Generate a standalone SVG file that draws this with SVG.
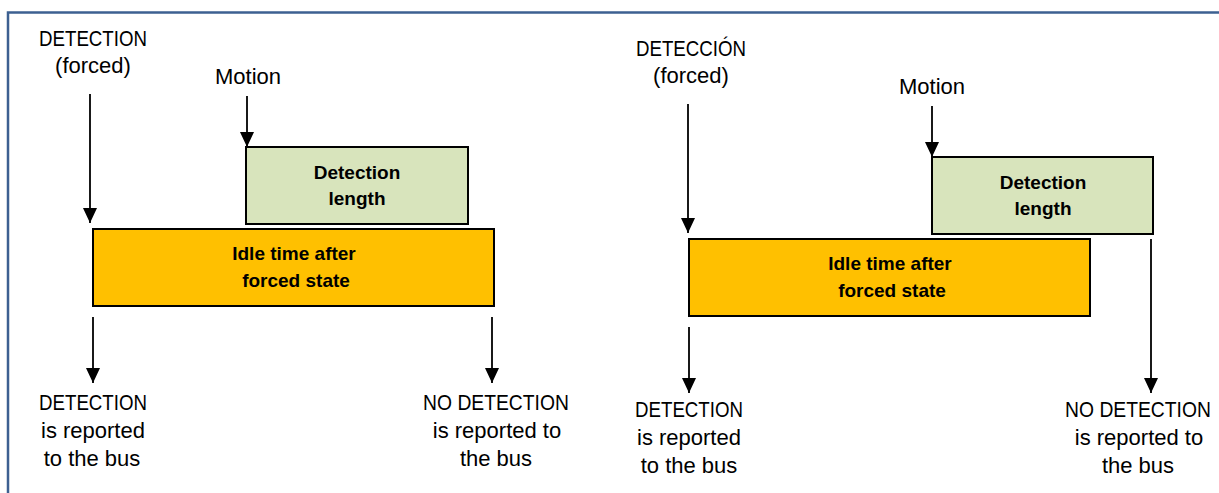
<svg xmlns="http://www.w3.org/2000/svg" width="1219" height="493" viewBox="0 0 1219 493">
<defs>
<marker id="ah" viewBox="0 0 15 14" refX="15" refY="7" markerWidth="15" markerHeight="14" markerUnits="userSpaceOnUse" orient="auto">
<path d="M0,0 L15,7 L0,14 z" fill="#000"/>
</marker>
<style>
.lbl{font-family:"Liberation Sans",Arial,sans-serif;font-size:22px;fill:#000;text-anchor:middle}
.bl{font-family:"Liberation Sans",Arial,sans-serif;font-size:19px;font-weight:bold;fill:#000;text-anchor:middle}
.green{fill:#d8e4bc;stroke:#000;stroke-width:2}
.orange{fill:#ffc000;stroke:#000;stroke-width:2}
.arr{stroke:#000;stroke-width:1.8;fill:none;marker-end:url(#ah)}
</style>
</defs>
<rect width="1219" height="493" fill="#fff"/>
<g id="frame" fill="none" stroke="#3d6091" stroke-width="2.5">
<path d="M8,493 L8,12.5 L1219,12.5"/>
</g>

<g id="left-forced">
<text class="lbl" transform="translate(93,46) scale(0.85,1)">DETECTION</text>
<text class="lbl" x="93" y="73">(forced)</text>
</g>
<g id="left-motion">
<text class="lbl" x="248" y="84">Motion</text>
</g>
<g id="left-detection-length">
<rect class="green" x="246" y="147" width="222" height="77"/>
<text class="bl" x="357" y="179">Detection</text>
<text class="bl" x="357" y="205">length</text>
</g>
<g id="left-idle">
<rect class="orange" x="93" y="229" width="401" height="77"/>
<text class="bl" x="294" y="260">Idle time after</text>
<text class="bl" x="296" y="287">forced state</text>
</g>
<g id="left-detection-out">
<text class="lbl" transform="translate(93,410) scale(0.85,1)">DETECTION</text>
<text class="lbl" x="93" y="438">is reported</text>
<text class="lbl" x="92" y="466">to the bus</text>
</g>
<g id="left-nodetection-out">
<text class="lbl" transform="translate(496,410) scale(0.878,1)">NO DETECTION</text>
<text class="lbl" x="497" y="438">is reported to</text>
<text class="lbl" x="496" y="466">the bus</text>
</g>

<g id="right-forced">
<text class="lbl" transform="translate(691,56) scale(0.85,1)">DETECCIÓN</text>
<text class="lbl" x="691" y="83">(forced)</text>
</g>
<g id="right-motion">
<text class="lbl" x="932" y="94">Motion</text>
</g>
<g id="right-detection-length">
<rect class="green" x="932" y="157" width="221" height="77"/>
<text class="bl" x="1043" y="189">Detection</text>
<text class="bl" x="1043" y="215">length</text>
</g>
<g id="right-idle">
<rect class="orange" x="689" y="239" width="401" height="77"/>
<text class="bl" x="890" y="270">Idle time after</text>
<text class="bl" x="892" y="297">forced state</text>
</g>
<g id="right-detection-out">
<text class="lbl" transform="translate(689,417) scale(0.85,1)">DETECTION</text>
<text class="lbl" x="689" y="445">is reported</text>
<text class="lbl" x="689" y="473">to the bus</text>
</g>
<g id="right-nodetection-out">
<text class="lbl" transform="translate(1138,417) scale(0.878,1)">NO DETECTION</text>
<text class="lbl" x="1139" y="445">is reported to</text>
<text class="lbl" x="1138" y="473">the bus</text>
</g>

<g id="connectors">
<line class="arr" x1="90" y1="94" x2="90" y2="223"/>
<line class="arr" x1="247" y1="96" x2="247" y2="147"/>
<line class="arr" x1="93" y1="317" x2="93" y2="383"/>
<line class="arr" x1="492" y1="317" x2="492" y2="383"/>
<line class="arr" x1="688" y1="104" x2="688" y2="233"/>
<line class="arr" x1="932" y1="106" x2="932" y2="157"/>
<line class="arr" x1="689" y1="327" x2="689" y2="393"/>
<line class="arr" x1="1151" y1="239" x2="1151" y2="393"/>
</g>
</svg>
